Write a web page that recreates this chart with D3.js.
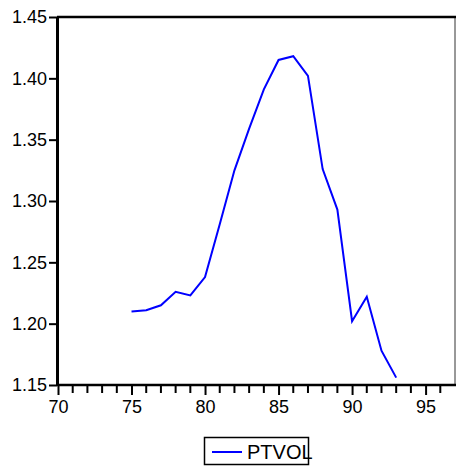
<!DOCTYPE html>
<html>
<head>
<meta charset="utf-8">
<script src="https://cdn.jsdelivr.net/npm/d3@7"></script>
<style>
  html, body { margin: 0; padding: 0; background: #fff; }
  svg { display: block; font-family: "Liberation Sans", Arial, sans-serif; }
</style>
</head>
<body>
<svg id="chart" width="456" height="467"></svg>
<script>
// DATA
const years = [75, 76, 77, 78, 79, 80, 81, 82, 83, 84, 85, 86, 87, 88, 89, 90, 91, 92, 93];
const ptvol = [1.210, 1.211, 1.215, 1.226, 1.223, 1.238, 1.281, 1.325, 1.359, 1.391, 1.415, 1.418, 1.402,
  1.326, 1.293, 1.202, 1.222, 1.178, 1.156];
const yTicks = [1.15, 1.20, 1.25, 1.30, 1.35, 1.40, 1.45];
const xTicks = [70, 75, 80, 85, 90, 95];
const seriesName = 'PTVOL';

// LAYOUT
const svg = d3.select('#chart');
const plotLeft = 57, plotTop = 17, plotRight = 455, plotBottom = 385;

const x = d3.scaleLinear().domain([70, 97]).range([plotLeft + 1, plotRight]);
const y = d3.scaleLinear().domain([1.15, 1.45]).range([plotBottom, plotTop]);

// frame: thin right edge, heavy top
svg.append('line')
  .attr('x1', plotRight).attr('x2', plotRight)
  .attr('y1', plotTop).attr('y2', plotBottom)
  .attr('stroke', '#333').attr('stroke-width', 1);
svg.append('line')
  .attr('x1', plotLeft).attr('x2', plotRight + 1)
  .attr('y1', plotTop).attr('y2', plotTop)
  .attr('stroke', '#000').attr('stroke-width', 2.5);

// minor x ticks every year
const minor = d3.range(71, 97).filter((d) => d % 5 !== 0);
svg.append('g')
  .selectAll('line')
  .data(minor)
  .join('line')
  .attr('x1', (d) => x(d)).attr('x2', (d) => x(d))
  .attr('y1', plotBottom).attr('y2', plotBottom + 8)
  .attr('stroke', '#000').attr('stroke-width', 2);

// x axis
const xAxis = svg.append('g')
  .attr('transform', `translate(0,${plotBottom})`)
  .call(d3.axisBottom(x).tickValues(xTicks).tickSize(10).tickPadding(5).tickSizeOuter(0));
xAxis.select('.domain').attr('stroke-width', 2.5).attr('d', `M${plotLeft},0H${plotRight + 1}`);
xAxis.selectAll('.tick line').attr('stroke-width', 2);
xAxis.selectAll('.tick text')
  .attr('font-size', 18).attr('font-family', '"Liberation Sans", Arial, sans-serif').attr('fill', '#000');

// y axis
const yAxis = svg.append('g')
  .attr('transform', `translate(${plotLeft},0)`)
  .call(d3.axisLeft(y).tickValues(yTicks).tickFormat(d3.format('.2f')).tickSize(8).tickPadding(2).tickSizeOuter(0));
yAxis.select('.domain').attr('stroke-width', 3);
yAxis.selectAll('.tick line').attr('stroke-width', 2);
yAxis.selectAll('.tick text')
  .attr('font-size', 18).attr('font-family', '"Liberation Sans", Arial, sans-serif').attr('fill', '#000');

// series
const line = d3.line()
  .x((d, i) => x(years[i]))
  .y((d) => y(d));
svg.append('path')
  .datum(ptvol)
  .attr('d', line)
  .attr('fill', 'none')
  .attr('stroke', '#0000ff')
  .attr('stroke-width', 2)
  .attr('stroke-linejoin', 'miter');

// legend (label runs past the box edge, as in the original)
const legend = svg.append('g');
legend.append('rect')
  .attr('x', 204.5).attr('y', 437.5)
  .attr('width', 104).attr('height', 27)
  .attr('fill', 'none').attr('stroke', '#000').attr('stroke-width', 1.5);
legend.append('line')
  .attr('x1', 212).attr('x2', 242)
  .attr('y1', 452).attr('y2', 452)
  .attr('stroke', '#0000ff').attr('stroke-width', 2);
legend.append('text')
  .attr('x', 247).attr('y', 459)
  .attr('font-size', 20)
  .attr('fill', '#000')
  .text(seriesName);
</script>
</body>
</html>
